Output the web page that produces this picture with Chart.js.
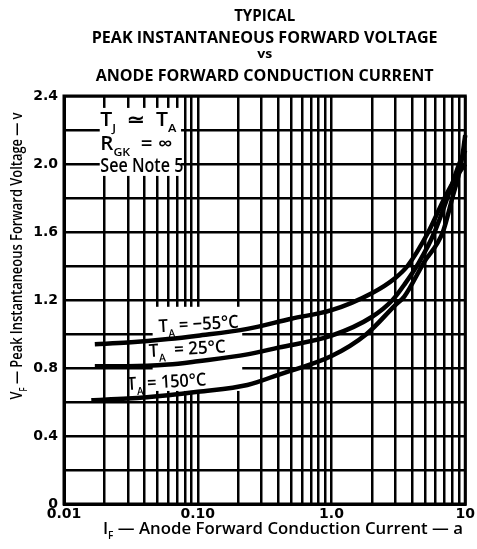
<!DOCTYPE html>
<html><head><meta charset="utf-8">
<script src="https://cdn.jsdelivr.net/npm/chart.js@4/dist/chart.umd.min.js"></script>
<style>html,body{margin:0;padding:0;background:#fff;}canvas{display:block}</style>
</head><body>
<canvas id="c" width="477" height="549"></canvas>
<script>
// ---- text ----
const titleLines = ['TYPICAL', 'PEAK INSTANTANEOUS FORWARD VOLTAGE', 'vs', 'ANODE FORWARD CONDUCTION CURRENT'];
const xAxisTitle = 'I_F — Anode Forward Conduction Current — a';
const yAxisTitle = 'V_F — Peak Instantaneous Forward Voltage — v';
const noteLines = ['T_J  ≃  T_A', 'R_GK  = ∞', 'See Note 5'];
const seriesLabels = ['T_A = −55°C', 'T_A  = 25°C', 'T_A = 150°C'];

// ---- ticks ----
const xGridValues = [0.01,0.02,0.03,0.04,0.05,0.06,0.07,0.08,0.09,0.1,0.2,0.3,0.4,0.5,0.6,0.7,0.8,0.9,1,2,3,4,5,6,7,8,9,10];
const xTickValues = [0.01, 0.1, 1, 10];
const xTickLabels = ['0.01', '0.10', '1.0', '10'];
const yTickLabels = ['0', '0.4', '0.8', '1.2', '1.6', '2.0', '2.4'];

// ---- data (I_F in a, V_F in v) ----
const currentM55 = [0.017, 0.03, 0.06, 0.1, 0.235, 0.5, 1.0, 2, 3, 3.7, 5.3, 7, 8.5, 10];
const voltageM55 = [0.94, 0.95, 0.97, 0.99, 1.03, 1.09, 1.14, 1.24, 1.33, 1.40, 1.60, 1.80, 1.92, 2.00];
const current25 = [0.017, 0.03, 0.06, 0.1, 0.235, 0.4, 1.0, 2, 2.86, 3.5, 4.5, 5.9, 7.5, 9, 10];
const voltage25 = [0.81, 0.81, 0.82, 0.84, 0.88, 0.92, 0.99, 1.10, 1.20, 1.29, 1.42, 1.60, 1.82, 2.00, 2.08];
const current150 = [0.016, 0.03, 0.06, 0.1, 0.235, 0.4, 1.0, 1.83, 3, 3.5, 4.9, 6.8, 8, 9.3, 10];
const voltage150 = [0.61, 0.62, 0.64, 0.66, 0.70, 0.76, 0.87, 1.00, 1.17, 1.22, 1.42, 1.60, 1.80, 2.00, 2.17];

// label anchors in data space (left edge, baseline)
const labelAnchorX = [0.0514, 0.0434, 0.0299];
const labelAnchorY = [1.01, 0.865, 0.67];
const noteAnchorX = 0.0187;
const noteAnchorY = [2.224, 2.082, 1.953];

const pts = (xs, ys) => xs.map((x, i) => ({x, y: ys[i]}));

function parseRuns(s) {
  return s.split(/(_[A-Za-z]+)/).filter(t => t.length).map(t => t[0] === '_' ? {t: t.slice(1), sub: true} : {t, sub: false});
}
function drawRuns(ctx, str, x, y, size, weight, family, opts) {
  opts = opts || {};
  const runs = parseRuns(str);
  ctx.save();
  ctx.translate(x, y);
  if (opts.angle) ctx.rotate(opts.angle);
  let w = 0;
  const items = runs.map(r => {
    const fs = r.sub ? size * 0.6 : size;
    ctx.font = `${weight} ${fs}px ${family}`;
    const mw = ctx.measureText(r.t).width;
    w += mw;
    return {r, fs, mw};
  });
  const sx = opts.width ? opts.width / w : 1;
  const drawnW = w * sx;
  let start = 0;
  if (opts.align === 'center') start = -drawnW / 2;
  ctx.translate(start, 0);
  ctx.scale(sx, 1);
  ctx.fillStyle = '#000';
  ctx.textBaseline = 'alphabetic';
  let cx = 0;
  items.forEach(it => {
    ctx.font = `${weight} ${it.fs}px ${family}`;
    ctx.fillText(it.r.t, cx, it.r.sub ? size * 0.3 : 0);
    cx += it.mw;
  });
  ctx.restore();
}

const decor = {
  id: 'decor',
  beforeDatasetsDraw(chart) {
    const {ctx, chartArea: a, scales: {x, y}} = chart;
    ctx.save();
    ctx.fillStyle = '#fff';
    const m1 = [x.getPixelForValue(0.0185), y.getPixelForValue(2.33), x.getPixelForValue(0.075), y.getPixelForValue(1.93)];
    ctx.fillRect(m1[0], m1[1], m1[2] - m1[0], m1[3] - m1[1]);
    const m2 = [x.getPixelForValue(0.046), y.getPixelForValue(1.16), x.getPixelForValue(0.215), y.getPixelForValue(0.665)];
    ctx.fillRect(m2[0], m2[1], m2[2] - m2[0], m2[3] - m2[1]);
    ctx.strokeStyle = '#000';
    ctx.lineWidth = 3;
    ctx.strokeRect(a.left, a.top, a.right - a.left, a.bottom - a.top);
    ctx.restore();
  },
  afterDatasetsDraw(chart) {
    const {ctx, chartArea: a, scales: {x, y}} = chart;
    const fam = '"Open Sans", sans-serif';
    const cx = (a.left + a.right) / 2;
    drawRuns(ctx, titleLines[0], cx, 21, 16, 700, fam, {align: 'center', width: 61});
    drawRuns(ctx, titleLines[1], cx, 43, 16, 700, fam, {align: 'center', width: 346});
    drawRuns(ctx, titleLines[2], cx, 58, 13, 700, fam, {align: 'center', width: 15});
    drawRuns(ctx, titleLines[3], cx, 81, 16, 700, fam, {align: 'center', width: 338});
    drawRuns(ctx, xAxisTitle, 283, 534, 17, 600, fam, {align: 'center', width: 360});
    drawRuns(ctx, yAxisTitle, 22, 256, 17, 600, fam, {align: 'center', width: 287, angle: -Math.PI / 2});
    noteLines.forEach((s, i) => drawRuns(ctx, s, x.getPixelForValue(noteAnchorX), y.getPixelForValue(noteAnchorY[i]), 19, 600, fam, {width: i === 2 ? 83 : (i === 0 ? 76 : 72)}));
    const lw = [80, 77, 79];
    seriesLabels.forEach((s, i) => drawRuns(ctx, s, x.getPixelForValue(labelAnchorX[i]), y.getPixelForValue(labelAnchorY[i]), 18, 600, fam, {width: lw[i], angle: -0.06}));
  }
};

const lineStyle = {borderColor: '#000', borderWidth: 4.5, pointRadius: 0, fill: false, cubicInterpolationMode: 'monotone', clip: 6};

new Chart(document.getElementById('c'), {
  type: 'line',
  data: {
    datasets: [
      Object.assign({label: seriesLabels[0], data: pts(currentM55, voltageM55)}, lineStyle),
      Object.assign({label: seriesLabels[1], data: pts(current25, voltage25)}, lineStyle),
      Object.assign({label: seriesLabels[2], data: pts(current150, voltage150)}, lineStyle)
    ]
  },
  options: {
    responsive: false,
    animation: false,
    events: [],
    layout: {padding: {top: 96, right: 4, left: 0, bottom: 0}},
    plugins: {legend: {display: false}, title: {display: false}, tooltip: {enabled: false}},
    scales: {
      x: {
        type: 'logarithmic', min: 0.01, max: 10,
        afterBuildTicks: s => { s.ticks = xGridValues.map(v => ({value: v})); },
        afterFit: s => { s.height = 45; },
        grid: {color: '#000', lineWidth: 2.5, drawTicks: false},
        border: {color: '#000', width: 3},
        ticks: {
          autoSkip: false, maxRotation: 0, padding: 2, color: '#000',
          font: {family: '"DejaVu Sans"', weight: 'bold', size: 14},
          callback: v => {
            const i = xTickValues.findIndex(t => Math.abs(Math.log10(t) - Math.log10(v)) < 1e-6);
            return i >= 0 ? xTickLabels[i] : '';
          }
        }
      },
      y: {
        type: 'linear', min: 0, max: 2.4,
        afterFit: s => { s.width = 64; },
        grid: {color: '#000', lineWidth: 2.5, drawTicks: false},
        border: {color: '#000', width: 3},
        ticks: {
          stepSize: 0.2, autoSkip: false, padding: 6, color: '#000',
          font: {family: '"DejaVu Sans"', weight: 'bold', size: 14},
          callback: v => {
            const i = yTickLabels.findIndex(t => Math.abs(parseFloat(t) - v) < 1e-6);
            return i >= 0 ? yTickLabels[i] : '';
          }
        }
      }
    }
  },
  plugins: [decor]
});
</script>
</body></html>
